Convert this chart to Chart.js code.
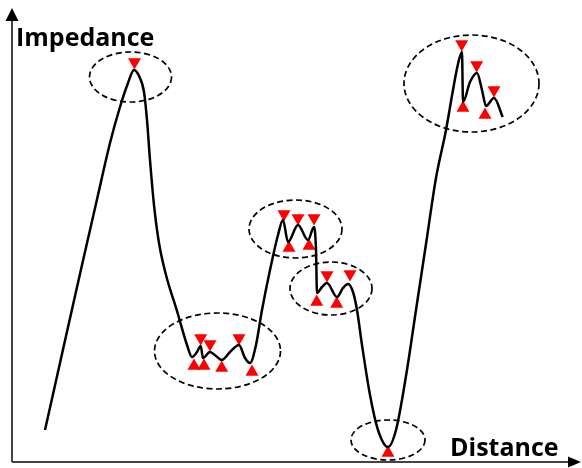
<!DOCTYPE html>
<html>
<head>
<meta charset="utf-8">
<script src="https://cdn.jsdelivr.net/npm/chart.js@4"></script>
<style>
  html, body { margin: 0; padding: 0; background: #fff; }
  canvas { display: block; }
</style>
</head>
<body>
<canvas id="impedanceChart" width="582" height="468"></canvas>
<script>
// impedance profile along the line (distance, impedance)
const profileDistance = [33, 52, 70, 86, 98, 108, 116, 122, 127, 132, 135, 138, 142, 147, 154, 165, 175, 180, 185, 188.7, 191, 198, 204, 209.7, 218, 227, 233, 238, 244, 250, 258, 266, 271, 276, 286, 296, 302, 304, 305, 310, 315, 325, 331, 336, 341, 345, 350, 358, 366, 376, 384, 394, 404, 414, 424, 434, 441, 446, 450, 451, 458, 465, 470, 474, 482, 490.7];
const profileImpedance = [32, 117, 197, 267, 319, 355, 379, 392, 386, 370, 342, 302, 257, 219, 187, 151, 117, 105, 110, 116, 104, 110, 106, 102, 110, 117, 104, 99, 117, 152, 192, 227, 242, 220, 237, 222, 235, 212, 169, 175, 179, 165, 174, 178, 170, 152, 117, 67, 32, 15, 32, 86, 152, 218, 284, 332, 372, 398, 410, 360, 380, 389, 372, 356, 364, 345];

// local maxima (marked with down triangles)
const peakDistance = [122.5, 188.7, 198, 227, 272, 286, 302, 315, 338, 449.7, 464.7, 482];
const peakImpedance = [400, 124, 118, 124, 248, 244, 244, 187, 188, 418, 397, 372];

// local minima (marked with up triangles)
const valleyDistance = [182, 192, 209.7, 240, 277, 297, 304.7, 324.7, 376, 451, 473];
const valleyImpedance = [96, 96, 94, 90, 214, 216, 160, 158, 9, 354, 347];

// dashed groupings: centre and half-axes
const groupDistance = [118.5, 205.5, 283.5, 319, 459.5, 376];
const groupImpedance = [385, 111, 233, 173.5, 378.5, 22];
const groupHalfWidth = [41, 63, 46.5, 41, 67.5, 37];
const groupHalfHeight = [25, 38, 29, 26.5, 48.5, 20];

const axisTitleX = 'Distance';
const axisTitleY = 'Impedance';

const toPoints = (xs, ys) => xs.map((x, i) => ({ x: x, y: ys[i] }));

// axes with arrow heads, drawn from the scales' zero
const axesPlugin = {
    id: 'arrowAxes',
    beforeDatasetsDraw(chart) {
        const { ctx, chartArea, scales } = chart;
        const x0 = scales.x.getPixelForValue(0);
        const y0 = scales.y.getPixelForValue(0);
        const top = chartArea.top + 8;
        const right = chartArea.right - 1;
        ctx.save();
        ctx.strokeStyle = '#444';
        ctx.lineWidth = 2;
        ctx.beginPath();
        ctx.moveTo(x0, y0);
        ctx.lineTo(x0, top + 10);
        ctx.moveTo(x0, y0);
        ctx.lineTo(right - 10, y0);
        ctx.stroke();
        ctx.fillStyle = '#000';
        ctx.beginPath();
        ctx.moveTo(x0, top);
        ctx.lineTo(x0 - 6.5, top + 13);
        ctx.lineTo(x0 + 6.5, top + 13);
        ctx.closePath();
        ctx.fill();
        ctx.beginPath();
        ctx.moveTo(right, y0);
        ctx.lineTo(right - 13, y0 - 5.5);
        ctx.lineTo(right - 13, y0 + 5.5);
        ctx.closePath();
        ctx.fill();
        ctx.restore();
    }
};

// dashed ellipses around each group of extrema
const groupsPlugin = {
    id: 'groupEllipses',
    beforeDatasetsDraw(chart) {
        const { ctx, scales } = chart;
        ctx.save();
        ctx.strokeStyle = '#000';
        ctx.lineWidth = 1.7;
        ctx.setLineDash([6, 3.5]);
        groupDistance.forEach((d, i) => {
            const cx = scales.x.getPixelForValue(d);
            const cy = scales.y.getPixelForValue(groupImpedance[i]);
            const rx = Math.abs(scales.x.getPixelForValue(d + groupHalfWidth[i]) - cx);
            const ry = Math.abs(scales.y.getPixelForValue(groupImpedance[i] + groupHalfHeight[i]) - cy);
            ctx.beginPath();
            ctx.ellipse(cx, cy, rx, ry, 0, 0, Math.PI * 2);
            ctx.stroke();
        });
        ctx.restore();
    }
};

// axis titles
const titlesPlugin = {
    id: 'axisTitles',
    afterDatasetsDraw(chart) {
        const { ctx } = chart;
        ctx.save();
        ctx.fillStyle = '#000';
        ctx.font = 'bold 25px "Open Sans", sans-serif';
        ctx.textBaseline = 'alphabetic';
        ctx.textAlign = 'left';
        ctx.fillText(axisTitleY, 16, 46);
        ctx.fillText(axisTitleX, 450, 456);
        ctx.restore();
    }
};

new Chart(document.getElementById('impedanceChart'), {
    type: 'line',
    data: {
        datasets: [
            {
                data: toPoints(profileDistance, profileImpedance),
                borderColor: '#000',
                borderWidth: 2.5,
                pointRadius: 0,
                cubicInterpolationMode: 'monotone',
                fill: false,
                clip: false
            },
            {
                type: 'scatter',
                data: toPoints(peakDistance, peakImpedance),
                pointStyle: 'triangle',
                rotation: 180,
                pointRadius: 7.5,
                borderWidth: 0,
                backgroundColor: '#ff0000',
                clip: false
            },
            {
                type: 'scatter',
                data: toPoints(valleyDistance, valleyImpedance),
                pointStyle: 'triangle',
                pointRadius: 7.5,
                borderWidth: 0,
                backgroundColor: '#ff0000',
                clip: false
            }
        ]
    },
    options: {
        responsive: false,
        animation: false,
        devicePixelRatio: 1,
        layout: { padding: 0, autoPadding: false },
        plugins: {
            legend: { display: false },
            tooltip: { enabled: false }
        },
        scales: {
            x: { type: 'linear', display: false, min: -12, max: 570 },
            y: { type: 'linear', display: false, min: -6, max: 462 }
        }
    },
    plugins: [axesPlugin, groupsPlugin, titlesPlugin]
});
</script>
</body>
</html>
